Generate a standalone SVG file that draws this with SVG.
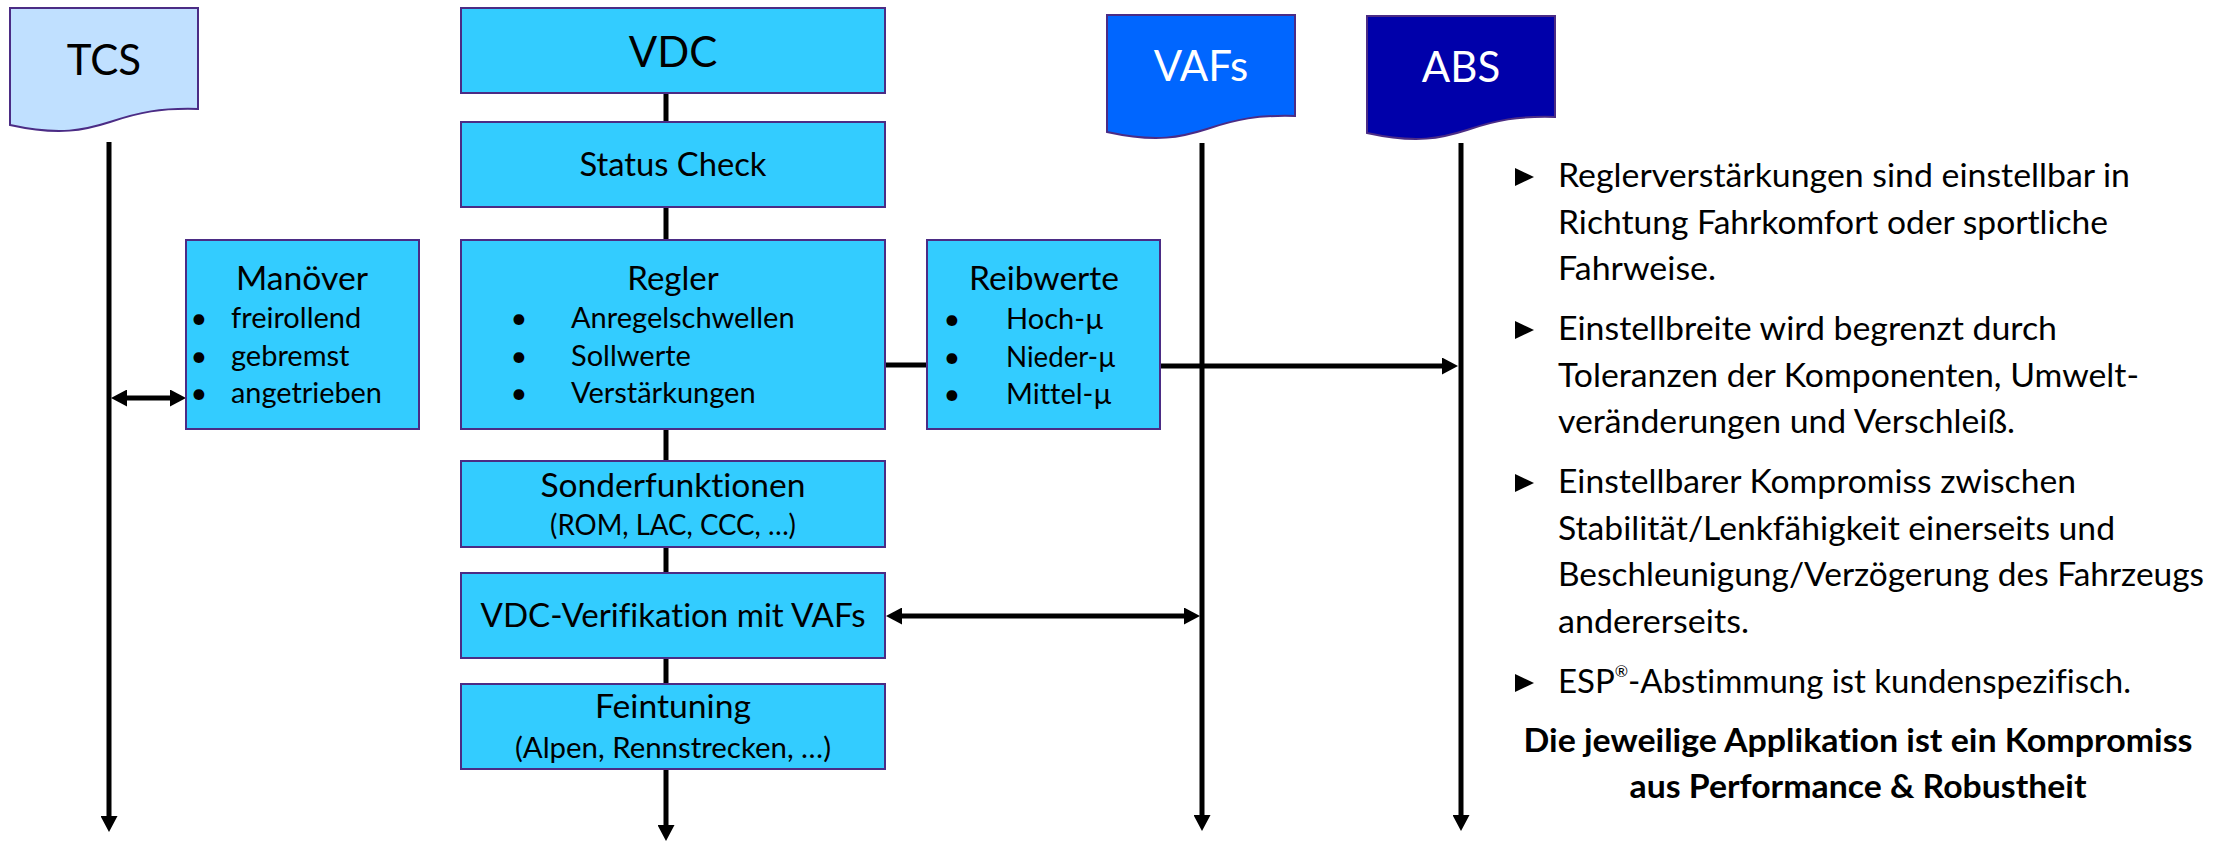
<svg xmlns="http://www.w3.org/2000/svg" width="2213" height="841" viewBox="0 0 2213 841">
  <style>
    text { font-family: "Lato", "Liberation Sans", sans-serif; fill: #000; font-variant-ligatures: none; }
    .box { fill: #33CCFF; stroke: #4B2C85; stroke-width: 2; }
    .doc { stroke: #4B2C85; stroke-width: 2; }
    .big { font-size: 42px; text-anchor: middle; }
    .title { font-size: 33px; text-anchor: middle; }
    .item { font-size: 29px; }
    .dot { font-size: 29px; text-anchor: middle; }
    .light { fill: #FFFFFF; }
    .wire { stroke: #000; stroke-width: 5; fill: none; }
    .para { font-size: 33px; }
    .bold { font-size: 33px; font-weight: bold; text-anchor: middle; }
    .tri { fill: #000; }
  </style>
  <defs>
    <marker id="head" markerUnits="userSpaceOnUse" markerWidth="16" markerHeight="17" viewBox="0 0 16 17" refX="8" refY="8.5" orient="auto-start-reverse">
      <path d="M0,0 L16,8.5 L0,17 Z" fill="#000"/>
    </marker>
    <!-- document shape with wavy bottom, 188 wide, 101 tall at the right edge -->
    <path id="docShape" d="M0,0 H188 V101 C150,100 130,104 100,114 C75,122 50,128 0,117 Z"/>
  </defs>

  <!-- connectors -->
  <g id="connectors">
    <line class="wire" x1="666" y1="93" x2="666" y2="833" marker-end="url(#head)"/>
    <line class="wire" x1="109" y1="142" x2="109" y2="824" marker-end="url(#head)"/>
    <line class="wire" x1="1202" y1="143" x2="1202" y2="823" marker-end="url(#head)"/>
    <line class="wire" x1="1461" y1="143" x2="1461" y2="823" marker-end="url(#head)"/>
    <line class="wire" x1="885" y1="365" x2="927" y2="365"/>
    <line class="wire" x1="1160" y1="366" x2="1450" y2="366" marker-end="url(#head)"/>
    <line class="wire" x1="119" y1="398" x2="178" y2="398" marker-start="url(#head)" marker-end="url(#head)"/>
    <line class="wire" x1="894" y1="616" x2="1192" y2="616" marker-start="url(#head)" marker-end="url(#head)"/>
  </g>

  <!-- participants -->
  <g id="tcs">
    <use href="#docShape" class="doc" fill="#C0E0FF" transform="translate(10,8)"/>
    <text class="big" x="104" y="75">TCS</text>
  </g>
  <g id="vdc">
    <rect class="box" x="461" y="8" width="424" height="85"/>
    <text class="big" x="673" y="67">VDC</text>
  </g>
  <g id="vafs">
    <use href="#docShape" class="doc" fill="#0066FF" transform="translate(1107,15)"/>
    <text class="big light" x="1201" y="81">VAFs</text>
  </g>
  <g id="abs">
    <use href="#docShape" class="doc" fill="#0000AA" transform="translate(1367,16)"/>
    <text class="big light" x="1461" y="82">ABS</text>
  </g>

  <!-- process steps -->
  <g id="status-check">
    <rect class="box" x="461" y="122" width="424" height="85"/>
    <text class="title" x="673" y="176" textLength="187" lengthAdjust="spacingAndGlyphs">Status Check</text>
  </g>
  <g id="manoever">
    <rect class="box" x="186" y="240" width="233" height="189"/>
    <text class="title" x="302" y="290" textLength="132" lengthAdjust="spacingAndGlyphs">Manöver</text>
    <text class="dot" x="199" y="328">•</text>
    <text class="item" x="231" y="328">freirollend</text>
    <text class="dot" x="199" y="366">•</text>
    <text class="item" x="231" y="366">gebremst</text>
    <text class="dot" x="199" y="403">•</text>
    <text class="item" x="231" y="403" textLength="151" lengthAdjust="spacingAndGlyphs">angetrieben</text>
  </g>
  <g id="regler">
    <rect class="box" x="461" y="240" width="424" height="189"/>
    <text class="title" x="673" y="290">Regler</text>
    <text class="dot" x="519" y="328">•</text>
    <text class="item" x="571" y="328">Anregelschwellen</text>
    <text class="dot" x="519" y="366">•</text>
    <text class="item" x="571" y="366">Sollwerte</text>
    <text class="dot" x="519" y="403">•</text>
    <text class="item" x="571" y="403">Verstärkungen</text>
  </g>
  <g id="reibwerte">
    <rect class="box" x="927" y="240" width="233" height="189"/>
    <text class="title" x="1044" y="290" textLength="150" lengthAdjust="spacingAndGlyphs">Reibwerte</text>
    <text class="dot" x="952" y="329">•</text>
    <text class="item" x="1006" y="329">Hoch-µ</text>
    <text class="dot" x="952" y="367">•</text>
    <text class="item" x="1006" y="367" textLength="110" lengthAdjust="spacingAndGlyphs">Nieder-µ</text>
    <text class="dot" x="952" y="404">•</text>
    <text class="item" x="1006" y="404">Mittel-µ</text>
  </g>
  <g id="sonderfunktionen">
    <rect class="box" x="461" y="461" width="424" height="86"/>
    <text class="title" x="673" y="497" textLength="265" lengthAdjust="spacingAndGlyphs">Sonderfunktionen</text>
    <text class="item" x="673" y="535" text-anchor="middle" textLength="246" lengthAdjust="spacingAndGlyphs">(ROM, LAC, CCC, …)</text>
  </g>
  <g id="vdc-verifikation">
    <rect class="box" x="461" y="573" width="424" height="85"/>
    <text class="title" x="673" y="627" textLength="385" lengthAdjust="spacingAndGlyphs">VDC-Verifikation mit VAFs</text>
  </g>
  <g id="feintuning">
    <rect class="box" x="461" y="684" width="424" height="85"/>
    <text class="title" x="673" y="718" textLength="156" lengthAdjust="spacingAndGlyphs">Feintuning</text>
    <text class="item" x="673" y="758" text-anchor="middle" textLength="316" lengthAdjust="spacingAndGlyphs">(Alpen, Rennstrecken, …)</text>
  </g>

  <!-- notes on the right -->
  <g id="notes">
    <path class="tri" d="M1515,168 L1534,177 L1515,186 Z"/>
    <text class="para" x="1558" y="187" textLength="572" lengthAdjust="spacingAndGlyphs">Reglerverstärkungen sind einstellbar in</text>
    <text class="para" x="1558" y="233.5" textLength="550" lengthAdjust="spacingAndGlyphs">Richtung Fahrkomfort oder sportliche</text>
    <text class="para" x="1558" y="280" textLength="158" lengthAdjust="spacingAndGlyphs">Fahrweise.</text>

    <path class="tri" d="M1515,321 L1534,330 L1515,339 Z"/>
    <text class="para" x="1558" y="340" textLength="499" lengthAdjust="spacingAndGlyphs">Einstellbreite wird begrenzt durch</text>
    <text class="para" x="1558" y="386.5" textLength="581" lengthAdjust="spacingAndGlyphs">Toleranzen der Komponenten, Umwelt-</text>
    <text class="para" x="1558" y="433" textLength="457" lengthAdjust="spacingAndGlyphs">veränderungen und Verschleiß.</text>

    <path class="tri" d="M1515,474 L1534,483 L1515,492 Z"/>
    <text class="para" x="1558" y="493" textLength="518" lengthAdjust="spacingAndGlyphs">Einstellbarer Kompromiss zwischen</text>
    <text class="para" x="1558" y="539.5" textLength="557" lengthAdjust="spacingAndGlyphs">Stabilität/Lenkfähigkeit einerseits und</text>
    <text class="para" x="1558" y="586" textLength="646" lengthAdjust="spacingAndGlyphs">Beschleunigung/Verzögerung des Fahrzeugs</text>
    <text class="para" x="1558" y="632.5" textLength="191" lengthAdjust="spacingAndGlyphs">andererseits.</text>

    <path class="tri" d="M1515,674 L1534,683 L1515,692 Z"/>
    <text class="para" x="1558" y="693">ESP<tspan font-size="16" dy="-16">®</tspan><tspan dy="16">-Abstimmung ist kundenspezifisch.</tspan></text>

    <text class="bold" x="1858" y="752" textLength="669" lengthAdjust="spacingAndGlyphs">Die jeweilige Applikation ist ein Kompromiss</text>
    <text class="bold" x="1858" y="798" textLength="457" lengthAdjust="spacingAndGlyphs">aus Performance &amp; Robustheit</text>
  </g>
</svg>
